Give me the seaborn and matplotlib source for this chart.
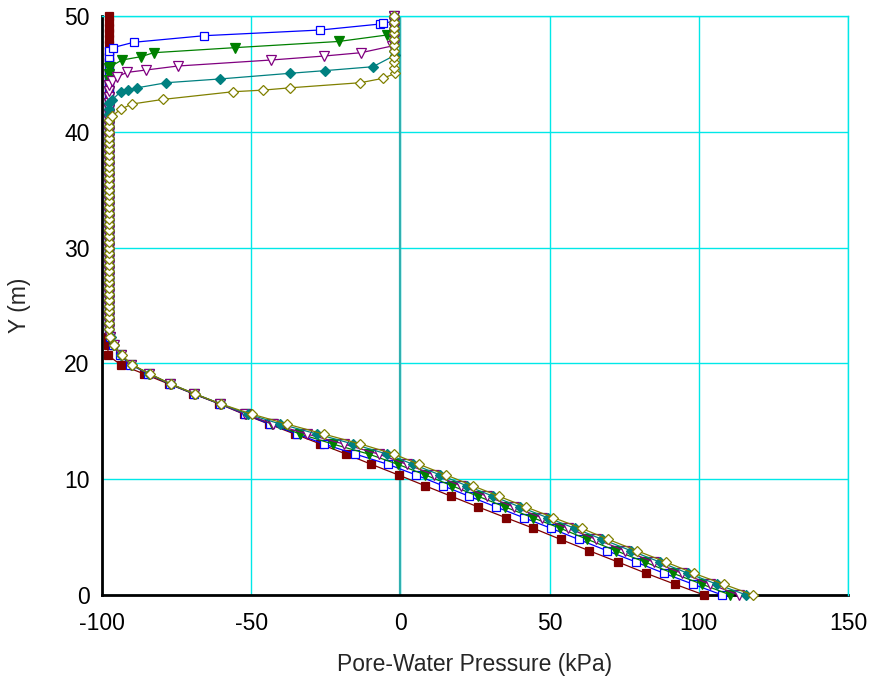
import numpy as np
import pandas as pd
import matplotlib
matplotlib.use("Agg")
import matplotlib.pyplot as plt
import seaborn as sns

# ---------------- data ----------------
# lower (saturated / transition) nodes
Y_LOW = [0.00, 0.93, 1.87, 2.85, 3.83, 4.80, 5.76, 6.68, 7.60, 8.52, 9.44, 10.36,
         11.28, 12.17, 13.04, 13.90, 14.76, 15.62, 16.50, 17.38, 18.22, 19.10,
         19.90, 20.70, 21.55, 22.30]

P_LOW_T0 = [101.8, 92.0, 82.4, 72.9, 63.2, 53.7, 44.6, 35.3, 26.1, 17.1, 8.2, -0.6,
            -9.7, -18.2, -26.8, -35.4, -44.1, -52.5, -60.7, -69.5, -77.6, -86.0,
            -93.8, -98.0, -98.0, -98.0]
P_LOW_T1 = [107.8, 98.1, 88.4, 78.9, 69.2, 59.7, 50.5, 41.3, 32.1, 23.1, 14.2, 5.3,
            -4.1, -15.1, -25.7, -34.5, -43.8, -52.2, -60.5, -69.3, -77.3, -84.5,
            -90.5, -94.0, -96.3, -97.3]
P_LOW_T2 = [110.6, 101.1, 91.4, 81.9, 72.2, 62.7, 53.6, 44.3, 35.1, 26.1, 17.2, 8.4,
            -0.8, -10.6, -22.7, -33.5, -43.0, -51.8, -60.3, -69.2, -77.2, -84.3,
            -90.3, -93.8, -96.2, -97.2]
P_LOW_T3 = [113.4, 103.9, 94.4, 84.9, 75.2, 65.7, 56.2, 47.3, 38.1, 29.1, 20.2, 11.4,
            2.2, -7.3, -19.0, -31.3, -42.6, -52.0, -60.3, -69.1, -77.1, -84.2,
            -90.2, -93.6, -96.1, -97.2]
P_LOW_T4 = [115.9, 106.1, 96.4, 86.9, 77.2, 67.7, 58.4, 49.3, 40.1, 31.1, 22.2, 13.4,
            4.3, -4.5, -15.9, -27.9, -40.2, -51.0, -60.2, -69.0, -77.0, -84.1,
            -90.1, -93.5, -96.0, -97.1]
P_LOW_T5 = [118.2, 108.3, 98.4, 88.9, 79.2, 69.7, 60.7, 51.3, 42.1, 33.1, 24.2, 15.4,
            6.3, -2.2, -13.4, -25.7, -38.0, -49.8, -60.2, -68.9, -76.9, -84.0,
            -90.0, -93.3, -96.0, -97.2]

# dry column nodes (pressure stays near -98 kPa)
Y_COL = [23.0, 23.5, 24.0, 24.5, 25.0, 25.5, 26.0, 26.5, 27.0, 27.5, 28.0, 28.5,
         29.0, 29.5, 30.0, 30.5, 31.0, 31.5, 32.0, 32.5, 33.0, 33.5, 34.0, 34.5,
         35.0, 35.5, 36.0, 36.5, 37.0, 37.5, 38.0, 38.5, 39.0, 39.5, 40.0, 40.5,
         41.0, 41.5, 42.0, 42.5, 43.0, 43.5, 44.0, 44.5, 45.0, 45.5, 46.0, 46.5,
         47.0, 47.5, 48.0, 48.5, 49.0, 49.5, 50.0]
P_COL = [-97.8, -97.8, -97.8, -97.8, -97.8, -97.8, -97.8, -97.8, -97.8, -97.8,
         -97.8, -97.8, -97.8, -97.8, -97.8, -97.8, -97.8, -97.8, -97.8, -97.8,
         -97.8, -97.8, -97.8, -97.8, -97.8, -97.8, -97.8, -97.8, -97.8, -97.8,
         -97.8, -97.8, -97.8, -97.8, -97.8, -97.8, -97.8, -97.8, -97.8, -97.8,
         -97.8, -97.8, -97.8, -97.8, -97.8, -97.8, -97.8, -97.8, -97.8, -97.8,
         -97.8, -97.8, -97.8, -97.8, -97.8]

# wetting fronts near the surface
TOP_P_T1 = [-96.3, -89.4, -65.7, -26.8, -6.7, -5.8]
TOP_Y_T1 = [47.27, 47.73, 48.30, 48.79, 49.31, 49.42]
TOP_P_T2 = [-97.4, -93.3, -86.9, -82.7, -55.3, -20.7, -4.5]
TOP_Y_T2 = [45.60, 46.20, 46.49, 46.83, 47.27, 47.80, 48.36]
TOP_P_T3 = [-96.6, -94.9, -91.6, -85.1, -74.6, -43.3, -25.7, -13.2, -2.8]
TOP_Y_T3 = [44.41, 44.76, 45.13, 45.34, 45.68, 46.20, 46.54, 46.83, 47.41]
TOP_P_T4 = [-96.6, -93.8, -91.4, -88.2, -78.4, -60.6, -37.1, -25.4, -9.2, -1.7]
TOP_Y_T4 = [42.75, 43.46, 43.60, 43.80, 44.24, 44.56, 45.05, 45.28, 45.62, 46.63]
TOP_P_T5 = [-96.6, -93.8, -89.9, -79.5, -56.1, -46.0, -36.9, -13.4, -5.8, -1.7]
TOP_Y_T5 = [41.36, 41.94, 42.40, 42.80, 43.46, 43.60, 43.80, 44.24, 44.62, 45.05]

# near-surface wet column
Y_RIGHT = [45.5, 46.0, 46.5, 47.0, 47.5, 48.0, 48.5, 49.0, 49.5, 50.0]
P_RIGHT = [-2.0, -2.0, -2.0, -2.0, -2.0, -2.0, -2.0, -2.0, -2.0, -2.0]

X_TICKS = [-100, -50, 0, 50, 100, 150]
Y_TICKS = [0, 10, 20, 30, 40, 50]

# ---------------- build series ----------------
def build(p_low, top_p=None, top_y=None):
    ps = list(p_low)
    ys = list(Y_LOW)
    if top_p is None:
        ps += P_COL
        ys += Y_COL
        return pd.DataFrame({"p": ps, "y": ys})
    first = top_y[0]
    last = top_y[-1]
    for p, y in zip(P_COL, Y_COL):
        if y < first:
            ps.append(p); ys.append(y)
    ps += top_p
    ys += top_y
    for p, y in zip(P_RIGHT, Y_RIGHT):
        if y > last:
            ps.append(p); ys.append(y)
    return pd.DataFrame({"p": ps, "y": ys})

series = [
    (build(P_LOW_T0), "#800000", "s", True, 6.0),
    (build(P_LOW_T1, TOP_P_T1, TOP_Y_T1), "#0000ff", "s", False, 6.0),
    (build(P_LOW_T2, TOP_P_T2, TOP_Y_T2), "#008000", "v", True, 6.5),
    (build(P_LOW_T3, TOP_P_T3, TOP_Y_T3), "#800080", "v", False, 6.5),
    (build(P_LOW_T4, TOP_P_T4, TOP_Y_T4), "#008080", "D", True, 5.0),
    (build(P_LOW_T5, TOP_P_T5, TOP_Y_T5), "#808000", "D", False, 5.0),
]

# ---------------- plot ----------------
sns.set_style("white")
plt.rcParams["font.family"] = ["Liberation Sans", "DejaVu Sans"]

fig = plt.figure(figsize=(8.71, 6.86), dpi=100)
ax = fig.add_axes([102 / 871, 91 / 686, 746 / 871, 579 / 686])

grid_c = "#00e8e8"
ax.set_xlim(-100, 150)
ax.set_ylim(0, 50)
ax.set_xticks(X_TICKS)
ax.set_yticks(Y_TICKS)
ax.grid(True, color=grid_c, lw=1.0)
ax.set_axisbelow(True)
ax.axvline(0, color="#30b0b0", lw=1.6, zorder=1)

for df, col, mk, filled, ms in series:
    sns.lineplot(data=df, x="p", y="y", ax=ax, sort=False, estimator=None,
                 color=col, lw=0.9, marker=mk, markersize=ms,
                 markerfacecolor=col if filled else "white",
                 markeredgecolor=col, markeredgewidth=0.9,
                 clip_on=False, zorder=3)

for s in ["top", "right"]:
    ax.spines[s].set_color(grid_c)
    ax.spines[s].set_linewidth(1.0)
for s in ["left", "bottom"]:
    ax.spines[s].set_color("black")
    ax.spines[s].set_linewidth(2.0)
    ax.spines[s].set_zorder(2)

ax.tick_params(axis="both", direction="inout", length=16, width=2,
               color="black", labelsize=16.5, labelcolor="black")
ax.tick_params(axis="x", pad=4)
ax.tick_params(axis="y", pad=1)
ax.set_xticklabels([str(v) for v in X_TICKS])
ax.set_yticklabels([str(v) for v in Y_TICKS])

ax.set_xlabel("Pore-Water Pressure (kPa)", fontsize=16.5, labelpad=13)
ax.set_ylabel("Y (m)", fontsize=16.5, labelpad=24)

fig.savefig("out.png", dpi=100)
